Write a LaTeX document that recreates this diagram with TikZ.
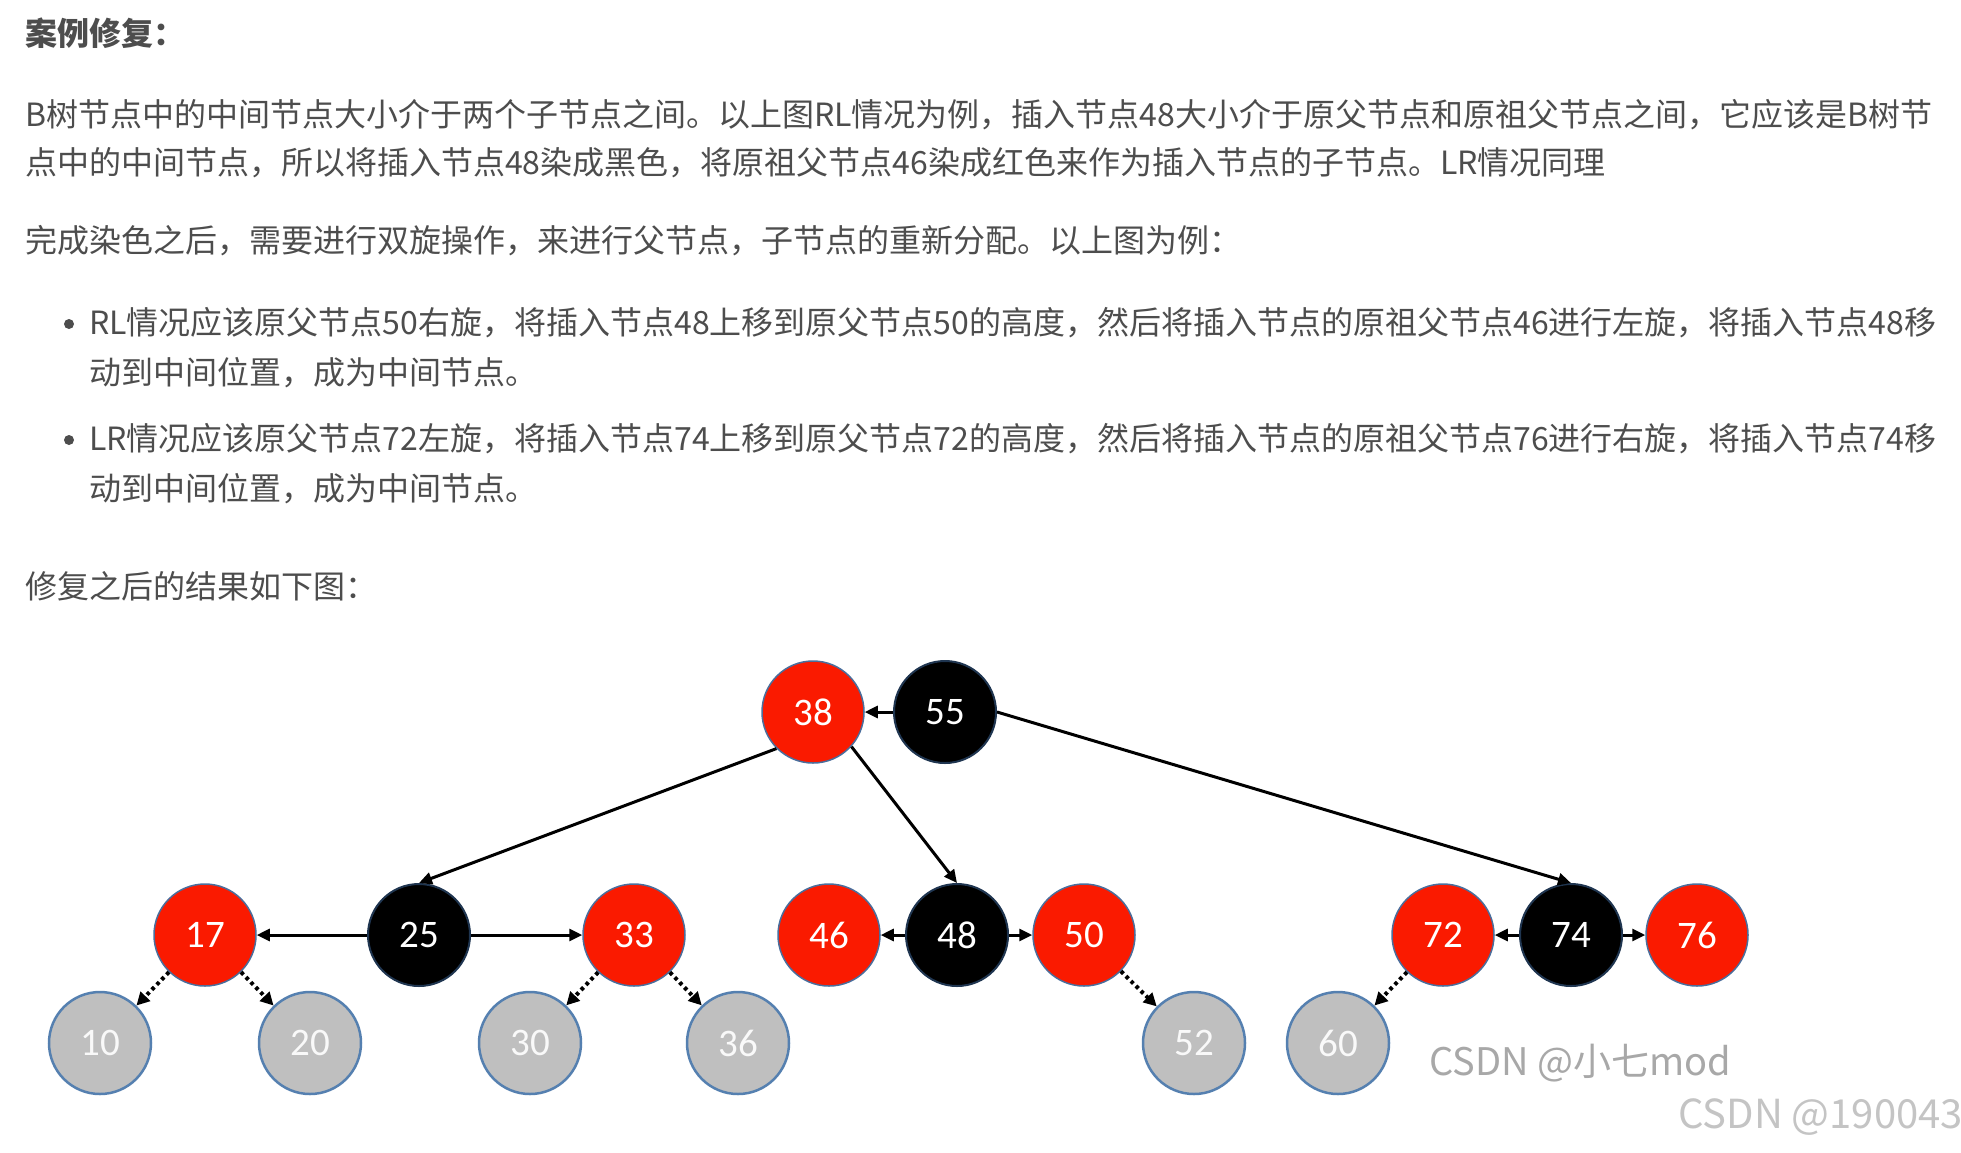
\documentclass[tikz,border=0pt]{standalone}
\usepackage{fontspec}
\usetikzlibrary{arrows.meta}
\newfontfamily\cjk{Noto Sans CJK SC}
\newfontfamily\numfont{Carlito}
\definecolor{txt}{HTML}{4D4D4D}
\definecolor{rbred}{RGB}{250,26,0}
\definecolor{redge}{HTML}{4A6E9C}
\definecolor{bedge}{HTML}{1F3550}
\definecolor{gfill}{HTML}{BFBFBF}
\definecolor{gedge}{HTML}{5580B0}
\definecolor{wm}{HTML}{A8A8A8}
\definecolor{wmb}{HTML}{C4C4C4}
\tikzset{
  txtline/.style={inner sep=0pt, anchor=base west, text=txt, font=\cjk\fontsize{32}{40}\selectfont},
  rbnode/.style={circle, minimum size=102pt, inner sep=0pt, font=\numfont\fontsize{39}{42}\selectfont},
  rn/.style={rbnode, fill=rbred, draw=redge, line width=1.5pt, text=white},
  bn/.style={rbnode, fill=black, draw=bedge, line width=2pt, text=white},
  gn/.style={rbnode, fill=gfill, draw=gedge, line width=2.5pt, text=white!95!gray},
  arr/.style={line width=3pt, -{Triangle[length=13pt,width=12pt]}},
  dotarr/.style={line width=4pt, dash pattern=on 3.5pt off 3.5pt, -{Triangle[length=13pt,width=13pt]}},
  bullet/.style={circle, fill=txt, inner sep=0pt, minimum size=10pt}
}
\begin{document}
\begin{tikzpicture}[x=1pt,y=-1pt]
\useasboundingbox[fill=white] (0,0) rectangle (1961,1152);
% text
\node[txtline] (t1) at (25,45) {\bfseries 案例修复：};
\node[txtline] (t2) at (25,126) {B树节点中的中间节点大小介于两个子节点之间。以上图RL情况为例，插入节点48大小介于原父节点和原祖父节点之间，它应该是B树节};
\node[txtline] (t3) at (25,174) {点中的中间节点，所以将插入节点48染成黑色，将原祖父节点46染成红色来作为插入节点的子节点。LR情况同理};
\node[txtline] (t4) at (25,252) {完成染色之后，需要进行双旋操作，来进行父节点，子节点的重新分配。以上图为例：};
\node[bullet] (b1) at (69,324) {};
\node[txtline] (t5) at (89,334) {RL情况应该原父节点50右旋，将插入节点48上移到原父节点50的高度，然后将插入节点的原祖父节点46进行左旋，将插入节点48移};
\node[txtline] (t6) at (89,384) {动到中间位置，成为中间节点。};
\node[bullet] (b2) at (69,440) {};
\node[txtline] (t7) at (89,450) {LR情况应该原父节点72左旋，将插入节点74上移到原父节点72的高度，然后将插入节点的原祖父节点76进行右旋，将插入节点74移};
\node[txtline] (t8) at (89,500) {动到中间位置，成为中间节点。};
\node[txtline] (t9) at (25,598) {修复之后的结果如下图：};
% tree nodes
\node[rn] (n38) at (813,712) {38};
\node[bn] (n55) at (945,712) {55};
\node[rn] (n17) at (205,935) {17};
\node[bn] (n25) at (419,935) {25};
\node[rn] (n33) at (634,935) {33};
\node[rn] (n46) at (829,935) {46};
\node[bn] (n48) at (957,935) {48};
\node[rn] (n50) at (1084,935) {50};
\node[rn] (n72) at (1443,935) {72};
\node[bn] (n74) at (1571,935) {74};
\node[rn] (n76) at (1697,935) {76};
\node[gn] (n10) at (100,1043) {10};
\node[gn] (n20) at (310,1043) {20};
\node[gn] (n30) at (530,1043) {30};
\node[gn] (n36) at (738,1043) {36};
\node[gn] (n52) at (1194,1043) {52};
\node[gn] (n60) at (1338,1043) {60};
% edges
\draw[arr] (n55) -- (n38);
\draw[arr] (n38.-135) -- (n25.north);
\draw[arr] (n38.-42) -- (n48.north);
\draw[arr] (n55.east) -- (n74.north);
\draw[arr] (n25) -- (n17);
\draw[arr] (n25) -- (n33);
\draw[arr] (n48) -- (n46);
\draw[arr] (n48) -- (n50);
\draw[arr] (n74) -- (n72);
\draw[arr] (n74) -- (n76);
\draw[dotarr] (n17) -- (n10);
\draw[dotarr] (n17) -- (n20);
\draw[dotarr] (n33) -- (n30);
\draw[dotarr] (n33) -- (n36);
\draw[dotarr] (n50) -- (n52);
\draw[dotarr] (n72) -- (n60);
% watermarks
\node[inner sep=0pt, anchor=west, text=wm, font=\cjk\fontsize{38}{40}\selectfont] (w1) at (1429,1063) {CSDN @小七mod};
\node[inner sep=0pt, anchor=west, text=wmb, font=\cjk\fontsize{40}{42}\selectfont] (w2) at (1678,1117) {CSDN @190043};
\end{tikzpicture}
\end{document}
